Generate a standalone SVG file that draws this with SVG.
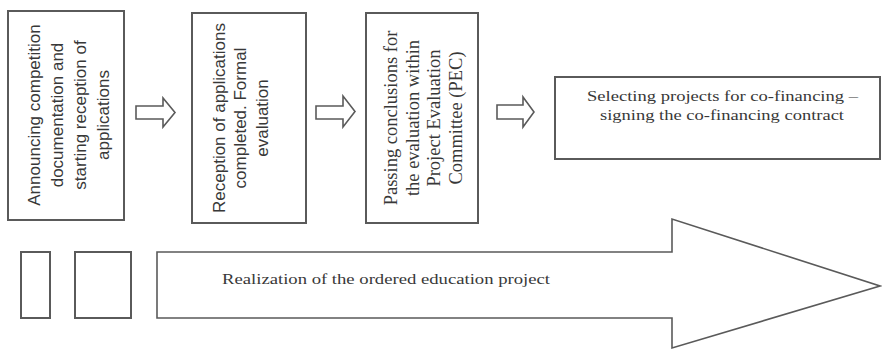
<svg xmlns="http://www.w3.org/2000/svg" width="882" height="350" viewBox="0 0 882 350">
  <style>
    .box { fill: #ffffff; stroke: #5a5a5a; stroke-width: 2; }
    .arrow { fill: #ffffff; stroke: #5a5a5a; stroke-width: 1.6; stroke-linejoin: miter; }
    .sans { font-family: "Liberation Sans", Arial, sans-serif; font-size: 17px; fill: #383838; }
    .serif { font-family: "Liberation Serif", "Times New Roman", serif; fill: #383838; }
    .v18 { font-size: 18.5px; }
    .h15 { font-size: 15.5px; }
  </style>
  <rect width="882" height="350" fill="#ffffff"/>

  <!-- Step 1 -->
  <g id="step-announce">
    <rect class="box" x="8" y="11" width="116" height="209"/>
    <g class="sans" text-anchor="middle">
      <text transform="translate(39.5,115) rotate(-90)">Announcing competition</text>
      <text transform="translate(62.5,115) rotate(-90)">documentation and</text>
      <text transform="translate(85.5,115) rotate(-90)">starting reception of</text>
      <text transform="translate(108.5,115) rotate(-90)">applications</text>
    </g>
  </g>

  <!-- Step 2 -->
  <g id="step-reception">
    <rect class="box" x="192" y="13" width="114" height="210"/>
    <g class="sans" text-anchor="middle">
      <text transform="translate(224.5,118) rotate(-90)">Reception of applications</text>
      <text transform="translate(246,118) rotate(-90)">completed. Formal</text>
      <text transform="translate(267.5,118) rotate(-90)">evaluation</text>
    </g>
  </g>

  <!-- Step 3 -->
  <g id="step-pec">
    <rect class="box" x="366" y="13" width="112" height="210"/>
    <g class="serif v18" text-anchor="middle">
      <text transform="translate(397,118) rotate(-90)">Passing conclusions for</text>
      <text transform="translate(418.5,118) rotate(-90)">the evaluation within</text>
      <text transform="translate(440,118) rotate(-90)">Project Evaluation</text>
      <text transform="translate(461.5,118) rotate(-90)">Committee (PEC)</text>
    </g>
  </g>

  <!-- Step 4 -->
  <g id="step-selecting">
    <rect class="box" x="555" y="77" width="325" height="82"/>
    <g class="serif h15">
      <text x="587" y="101" textLength="271" lengthAdjust="spacingAndGlyphs">Selecting projects for co-financing –</text>
      <text x="600" y="120" textLength="244" lengthAdjust="spacingAndGlyphs">signing the co-financing contract</text>
    </g>
  </g>

  <!-- Bottom row: blank blocks and the realization arrow -->
  <g id="block-a">
    <rect class="box" x="21" y="252" width="29" height="66"/>
  </g>
  <g id="block-b">
    <rect class="box" x="75" y="252" width="56" height="66"/>
  </g>
  <g id="realization">
    <polygon class="arrow" points="157,252 672,252 672,219 880,286 672,348 672,318 157,318"/>
    <text class="serif h15" x="222" y="284" textLength="328" lengthAdjust="spacingAndGlyphs">Realization of the ordered education project</text>
  </g>

  <!-- Connectors between the steps -->
  <g id="connectors">
    <polygon class="arrow" points="136,106 163,106 163,98 175,112.5 163,127 163,119 136,119"/>
    <polygon class="arrow" points="316,106 343,106 343,96 355,111.5 343,127 343,119 316,119"/>
    <polygon class="arrow" points="497,105 523,105 523,97 534,112 523,127 523,119 497,119"/>
  </g>
</svg>
